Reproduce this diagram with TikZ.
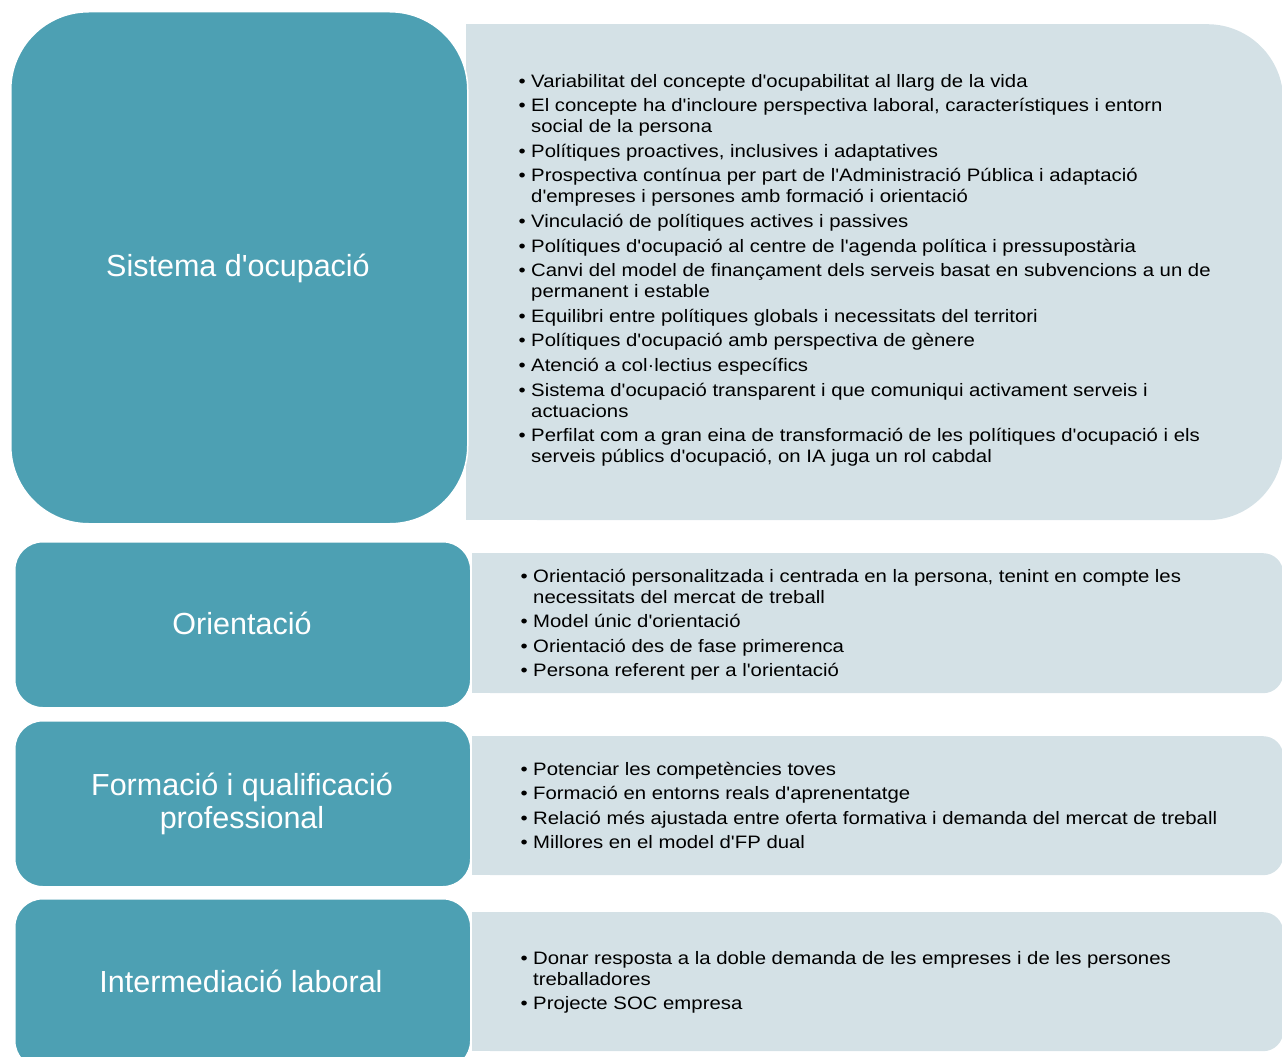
\documentclass[tikz,border=0pt]{standalone}
\usepackage{fontspec}
\setmainfont{Liberation Sans}[Ligatures=TeXOff]
\newfontfamily\bodyfont{Liberation Sans}[Ligatures=TeXOff, FakeStretch=1.13]
\definecolor{tealc}{HTML}{4DA0B3}
\definecolor{palec}{HTML}{D4E1E6}
\newlength\bulw
\setlength\bulw{12.5pt}
\newcommand\itm[1]{\par\hangindent=\bulw\hangafter=1\noindent\makebox[\bulw][l]{\textbullet}#1}
\newcommand\itemblock[1]{\parbox[t]{760pt}{\bodyfont\fontsize{18}{21}\selectfont\setlength\parskip{3.6pt}#1}}
\tikzset{
  catbox/.style={fill=tealc, draw=white, line width=1.5pt, rounded corners=#1, inner sep=0pt, anchor=north west},
  panebox/.style={fill=palec, rounded corners=#1, inner sep=0pt, anchor=north west},
  cattitle/.style={text=white, font=\fontsize{30.5}{33}\selectfont, align=center, inner sep=0pt},
  itemtext/.style={anchor=base west, inner sep=0pt, text=black}
}
\begin{document}
\begin{tikzpicture}[x=1pt,y=-1pt]
\useasboundingbox (0,0) rectangle (1282,1057);
% pale panels
\node[panebox=76pt, minimum width=817pt, minimum height=496pt] (p1) at (466,24) {};
\fill[palec] (p1.north west) rectangle (p1.south);
\node[panebox=20pt, minimum width=811pt, minimum height=140pt] (p2) at (472,553) {};
\fill[palec] (p2.north west) rectangle (p2.south);
\node[panebox=20pt, minimum width=811pt, minimum height=139pt] (p3) at (472,736) {};
\fill[palec] (p3.north west) rectangle (p3.south);
\node[panebox=20pt, minimum width=811pt, minimum height=139pt] (p4) at (472,912) {};
\fill[palec] (p4.north west) rectangle (p4.south);
% teal category boxes
\node[catbox=78pt, minimum width=457pt, minimum height=512pt] (c1) at (10,11) {};
\node[catbox=28pt, minimum width=456pt, minimum height=166pt] (c2) at (14,541) {};
\node[catbox=28pt, minimum width=456pt, minimum height=166pt] (c3) at (14,720) {};
\node[catbox=28pt, minimum width=456pt, minimum height=170pt] (c4) at (14,898) {};
% titles
\node[cattitle] (t1) at (238,268) {Sistema d'ocupació};
\node[cattitle] (t2) at (242,623) {Orientació};
\node[cattitle] (t3) at (242,804) {Formació i qualificació\\professional};
\node[cattitle] (t4) at (241,981) {Intermediació laboral};
% items
\node[itemtext] (i1) at (518.5,87) {\itemblock{%
\itm{Variabilitat del concepte d'ocupabilitat al llarg de la vida}
\itm{El concepte ha d'incloure perspectiva laboral, característiques i entorn\newline social de la persona}
\itm{Polítiques proactives, inclusives i adaptatives}
\itm{Prospectiva contínua per part de l'Administració Pública i adaptació\newline d'empreses i persones amb formació i orientació}
\itm{Vinculació de polítiques actives i passives}
\itm{Polítiques d'ocupació al centre de l'agenda política i pressupostària}
\itm{Canvi del model de finançament dels serveis basat en subvencions a un de\newline permanent i estable}
\itm{Equilibri entre polítiques globals i necessitats del territori}
\itm{Polítiques d'ocupació amb perspectiva de gènere}
\itm{Atenció a col·lectius específics}
\itm{Sistema d'ocupació transparent i que comuniqui activament serveis i\newline actuacions}
\itm{Perfilat com a gran eina de transformació de les polítiques d'ocupació i els\newline serveis públics d'ocupació, on IA juga un rol cabdal}}};
\node[itemtext] (i2) at (520.5,582) {\itemblock{%
\itm{Orientació personalitzada i centrada en la persona, tenint en compte les\newline necessitats del mercat de treball}
\itm{Model únic d'orientació}
\itm{Orientació des de fase primerenca}
\itm{Persona referent per a l'orientació}}};
\node[itemtext] (i3) at (520.5,775) {\itemblock{%
\itm{Potenciar les competències toves}
\itm{Formació en entorns reals d'aprenentatge}
\itm{Relació més ajustada entre oferta formativa i demanda del mercat de treball}
\itm{Millores en el model d'FP dual}}};
\node[itemtext] (i4) at (520.5,964) {\itemblock{%
\itm{Donar resposta a la doble demanda de les empreses i de les persones\newline treballadores}
\itm{Projecte SOC empresa}}};
\end{tikzpicture}
\end{document}
